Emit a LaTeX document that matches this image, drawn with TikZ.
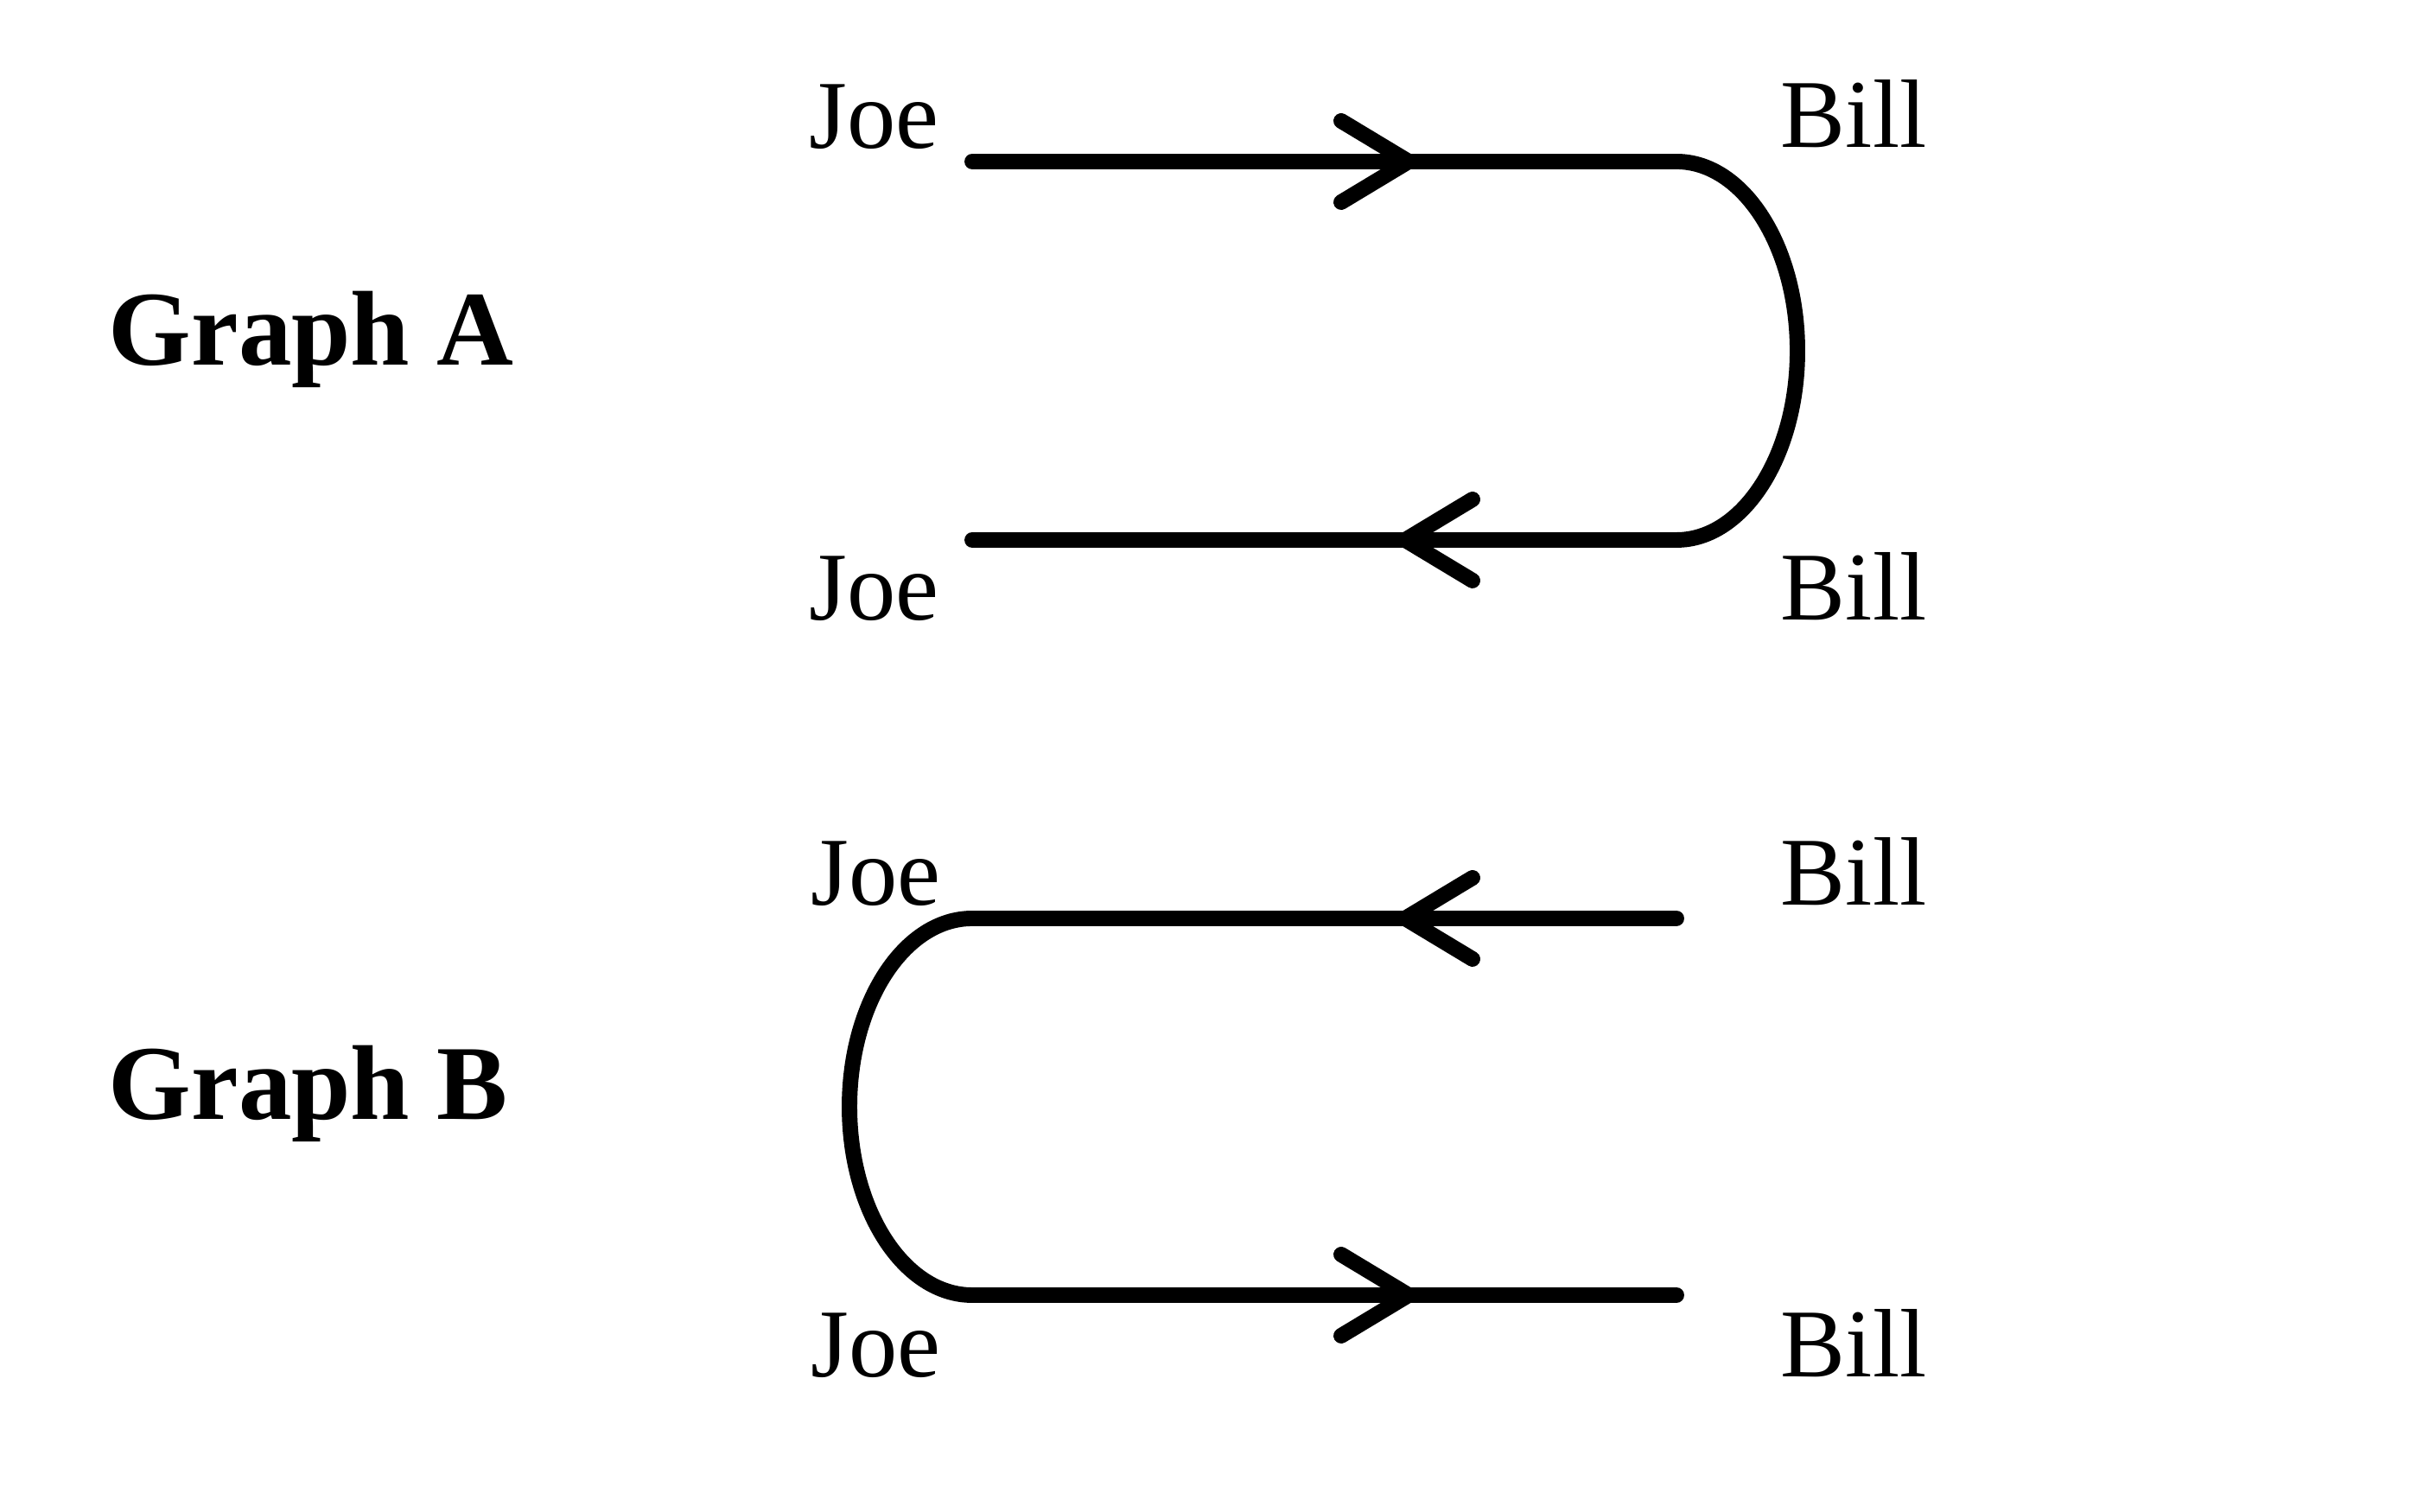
\documentclass[tikz,border=0pt]{standalone}
\usepackage{fontspec}
\setmainfont{Liberation Serif}
\begin{document}
\begin{tikzpicture}[wire/.style={line width=5.1pt,line cap=round},
  who/.style={anchor=base west,inner sep=0pt,font=\fontsize{32}{38}\selectfont},
  title/.style={anchor=base west,inner sep=0pt,font=\fontsize{35}{42}\selectfont\bfseries}]
\useasboundingbox (0,0) rectangle (28.12,17.5);

\node[title] (graphA) at (1.25,13.27) {Graph A};
\node[title] (graphB) at (1.25,4.54) {Graph B};

\node[who] (joeA1) at (9.36,15.78) {Joe};
\node[who] (billA1) at (20.60,15.79) {Bill};
\node[who] (joeA2) at (9.36,10.32) {Joe};
\node[who] (billA2) at (20.60,10.32) {Bill};
\node[who] (joeB1) at (9.38,7.02) {Joe};
\node[who] (billB1) at (20.60,7.02) {Bill};
\node[who] (joeB2) at (9.38,1.56) {Joe};
\node[who] (billB2) at (20.60,1.56) {Bill};

\coordinate (a1) at (11.25,15.63);
\coordinate (a2) at (19.40,15.63);
\coordinate (a3) at (11.25,11.25);
\coordinate (b1) at (19.40,6.87);
\coordinate (b2) at (11.25,6.87);
\coordinate (b3) at (19.40,2.51);

\draw[wire] (a1) -- (a2) arc[start angle=90,end angle=-90,x radius=1.40,y radius=2.19] -- (a3);
\draw[wire] (b1) -- (b2) arc[start angle=90,end angle=270,x radius=1.42,y radius=2.18] -- (b3);

\coordinate (tA1) at (16.30,15.63);
\coordinate (tA2) at (16.26,11.25);
\coordinate (tB1) at (16.26,6.87);
\coordinate (tB2) at (16.30,2.51);

\draw[wire] (tA1) ++(-0.78,0.47) -- (tA1) -- ++(-0.78,-0.47);
\draw[wire] (tA2) ++(0.78,0.47) -- (tA2) -- ++(0.78,-0.47);
\draw[wire] (tB1) ++(0.78,0.47) -- (tB1) -- ++(0.78,-0.47);
\draw[wire] (tB2) ++(-0.78,0.47) -- (tB2) -- ++(-0.78,-0.47);
\end{tikzpicture}
\end{document}
